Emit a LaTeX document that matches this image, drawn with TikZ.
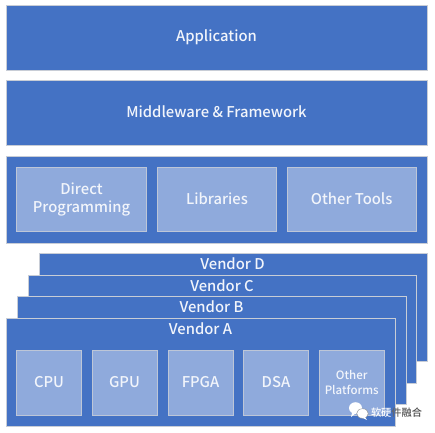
\documentclass[tikz,border=0pt]{standalone}
\usepackage{fontspec}
\setmainfont{Noto Sans CJK SC Medium}
\definecolor{barblue}{HTML}{4472C4}
\definecolor{innerblue}{HTML}{8FAADC}
\definecolor{edgegrey}{HTML}{C8CDD6}
\definecolor{labelwhite}{HTML}{F2F5FB}
\tikzset{
  x=1pt,y=-1pt,
  bar/.style={draw=edgegrey,line width=0.9pt,fill=barblue},
  barlabel/.style={text=labelwhite,anchor=base,inner sep=0pt,font=\fontsize{14.8}{18}\selectfont},
  cell/.style={draw=edgegrey!80!innerblue,line width=0.9pt,fill=innerblue},
  celllabel/.style={text=labelwhite,anchor=base,inner sep=0pt,font=\fontsize{14.8}{18}\selectfont},
  smalllabel/.style={text=labelwhite,anchor=base,inner sep=0pt,font=\fontsize{11.5}{14.5}\selectfont},
  mark label/.style={font=\fontsize{10.2}{12}\selectfont,inner sep=0pt},
}
\begin{document}
\begin{tikzpicture}
\useasboundingbox (0,0) rectangle (435,432);
\fill[white] (0,0) rectangle (435,432);
% top layers
\draw[bar] (6.5,5.5) rectangle (427.5,70);
\node[barlabel] (app) at (216.5,41) {Application};
\draw[bar] (6.5,80.5) rectangle (427.5,145);
\node[barlabel] (mid) at (216.5,117.3) {Middleware \& Framework};
\draw[bar] (6.5,156.5) rectangle (427.5,243);
\draw[cell] (16.5,167) rectangle (146.5,231);
\node[celllabel] (direct) at (81.5,194) {Direct};
\node[celllabel] (prog) at (81.5,212.5) {Programming};
\draw[cell] (157.5,167) rectangle (276.5,231);
\node[celllabel] (lib) at (217,204) {Libraries};
\draw[cell] (287,167) rectangle (416.5,231);
\node[celllabel] (other) at (351.7,204) {Other Tools};
% vendors
\draw[bar] (39.5,253.5) rectangle (427.5,361);
\node[barlabel] (vd) at (232.5,269.5) {Vendor D};
\draw[bar] (28,275) rectangle (416.5,383);
\node[barlabel] (vc) at (222,291) {Vendor C};
\draw[bar] (17.5,296) rectangle (406,404);
\node[barlabel] (vb) at (211.5,312.5) {Vendor B};
\draw[bar] (6.5,318.5) rectangle (395,426);
\node[barlabel] (va) at (200.5,334) {Vendor A};
\draw[cell] (16.5,350.5) rectangle (81.5,415.5);
\node[celllabel] (cpu) at (49,387) {CPU};
\draw[cell] (92.5,350.5) rectangle (157.5,415.5);
\node[celllabel] (gpu) at (124.5,387) {GPU};
\draw[cell] (168.5,350.5) rectangle (233.5,415.5);
\node[celllabel] (fpga) at (200.5,387) {FPGA};
\draw[cell] (243.5,350.5) rectangle (308.5,415.5);
\node[celllabel] (dsa) at (276,387) {DSA};
\draw[cell] (319.5,350.5) rectangle (384.5,415.5);
\node[smalllabel] (oth) at (351.7,379) {Other};
\node[smalllabel] (plat) at (351.7,394) {Platforms};
% watermark
\fill[white] (355.5,408) ellipse[x radius=6.5,y radius=5.8];
\fill[white] (352,413) -- (351,417) -- (356,413) -- cycle;
\fill[white,draw=black!45,line width=0.4pt] (362.5,413.5) ellipse[x radius=5.8,y radius=4.8];
\fill[white] (365,417) -- (367,420) -- (362,417.5) -- cycle;
\node[mark label] (wm) at (396.5,413) {\textcolor{white}{软硬}\textcolor{black!60}{件}\textcolor{black!70}{融合}};
\end{tikzpicture}
\end{document}
